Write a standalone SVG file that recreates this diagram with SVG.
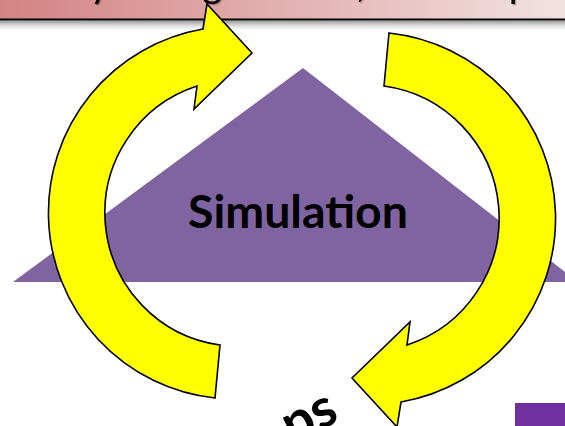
<svg xmlns="http://www.w3.org/2000/svg" width="565" height="426" viewBox="0 0 565 426">
  <style>
    .title { font-family: Lato, "Liberation Sans", sans-serif; font-size: 38px; fill: #000000; filter: url(#titleShadow); }
    .label { font-family: Lato, "Liberation Sans", sans-serif; font-weight: bold; fill: #000000; }
    .cycle { fill: #ffff00; stroke: #000000; stroke-width: 1.6; stroke-linejoin: miter; }
  </style>
  <defs>
    <linearGradient id="bandFill" x1="0" y1="0" x2="1" y2="0">
      <stop offset="0" stop-color="#d38383"/>
      <stop offset="0.5" stop-color="#e3b0b0"/>
      <stop offset="1" stop-color="#f2e2e2"/>
    </linearGradient>
    <linearGradient id="bandShadow" x1="0" y1="0" x2="0" y2="1">
      <stop offset="0" stop-color="#808080" stop-opacity="0.85"/>
      <stop offset="1" stop-color="#ffffff" stop-opacity="0"/>
    </linearGradient>
    <filter id="titleShadow" x="-10%" y="-50%" width="120%" height="200%">
      <feDropShadow dx="1.2" dy="1.2" stdDeviation="0.6" flood-color="#000000" flood-opacity="0.35"/>
    </filter>
    <!-- curved arrow: outer arc r=186.4, inner arc r=133.4 around (235.4, 212.6) -->
    <path id="curvedArrow" d="M215,398 A186.4,186.4 0 0 1 203,29 L207,4 L252,53 L194,109 L197,86 A133.4,133.4 0 0 0 220,345 Z"/>
  </defs>

  <!-- title band; the heading runs off the top edge -->
  <g id="title-band">
    <rect x="0" y="0" width="565" height="19" fill="url(#bandFill)"/>
    <rect x="0" y="20.5" width="565" height="12" fill="url(#bandShadow)"/>
    <text class="title" x="14" y="-3">Study</text>
    <text class="title" x="128" y="-3">Design</text>
    <text class="title" x="250" y="-3">Model,</text>
    <text class="title" x="380" y="-3">and</text>
    <text class="title" x="468" y="-3">Experiment</text>
    <line x1="0" y1="19.5" x2="565" y2="19.5" stroke="#000000" stroke-width="2"/>
  </g>

  <!-- central triangle -->
  <g id="simulation">
    <polygon points="13,282 303,68 578,282" fill="#8064a2"/>
    <text class="label" x="188" y="228" font-size="46" textLength="220" lengthAdjust="spacingAndGlyphs">Simulation</text>
  </g>

  <!-- cycle arrows -->
  <g id="connectors">
    <use href="#curvedArrow" class="cycle"/>
    <use href="#curvedArrow" class="cycle" transform="rotate(180 302 215.5)"/>
  </g>

  <!-- lower label, rising to the right -->
  <g id="steps-label">
    <text class="label" font-size="54" transform="translate(292 444) rotate(-26)">ps</text>
  </g>

  <!-- corner block -->
  <g id="corner-block">
    <rect x="515" y="403" width="50" height="23" fill="#7030a0"/>
  </g>
</svg>
